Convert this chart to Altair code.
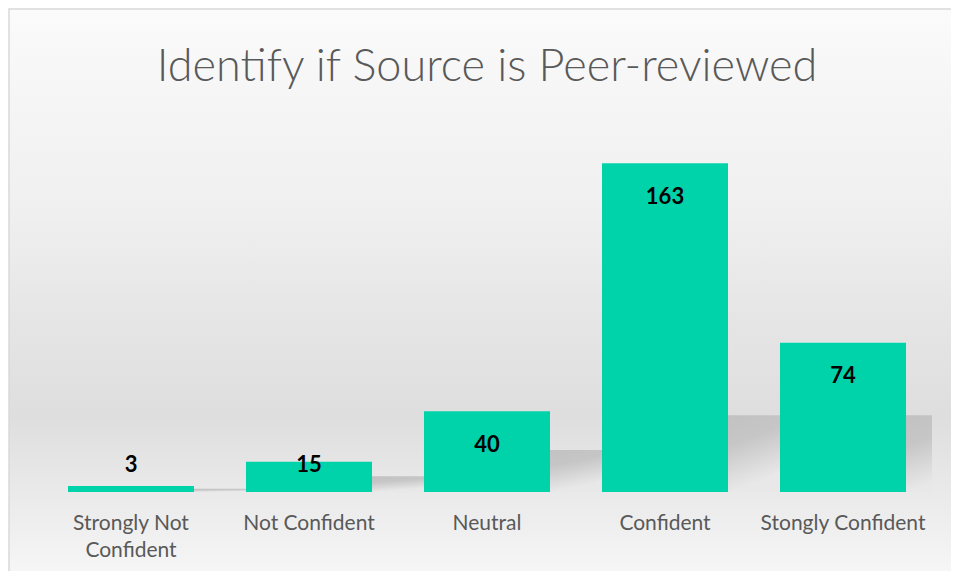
import altair as alt
import pandas as pd

categories = ["Strongly Not Confident", "Not Confident", "Neutral", "Confident", "Stongly Confident"]
values = [3, 15, 40, 163, 74]
title_text = ["Identify if Source is Peer-reviewed"]

df = pd.DataFrame({"cat": categories, "v": values})
bg_df = pd.DataFrame({"a": [0]})
title_df = pd.DataFrame({"t": title_text})

W, H = 890, 363
PL, PT, PR, PB = 34, 121, 19, 79

bg = alt.Chart(bg_df).mark_rect(
    color=alt.Gradient(
        gradient="linear",
        x1=0, x2=0, y1=0, y2=1,
        stops=[
            alt.GradientStop(offset=0.0, color="#fbfbfb"),
            alt.GradientStop(offset=0.16, color="#f5f5f5"),
            alt.GradientStop(offset=0.34, color="#f0f0f0"),
            alt.GradientStop(offset=0.52, color="#e6e6e6"),
            alt.GradientStop(offset=0.70, color="#dedede"),
            alt.GradientStop(offset=0.87, color="#ededed"),
            alt.GradientStop(offset=1.0, color="#f9f9f9"),
        ],
    ),
    stroke="#d9d9d9",
    strokeWidth=1.5,
).encode(
    x=alt.value(-PL + 1),
    x2=alt.value(W + PR + 20),
    y=alt.value(-PT + 1),
    y2=alt.value(H + PB + 20),
)

title = alt.Chart(title_df).mark_text(
    font="Lato", fontSize=45, fontWeight=300, color="#595959",
    align="center", baseline="alphabetic",
).encode(
    x=alt.value(W / 2),
    y=alt.value(-48),
    text="t:N",
)

xscale = alt.Scale(paddingInner=0.292, paddingOuter=0.146)
xenc = alt.X(
    "cat:N",
    sort=categories,
    scale=xscale,
    axis=alt.Axis(
        title=None,
        labelAngle=0,
        ticks=False,
        domain=False,
        zindex=1,
        labelFont="Lato",
        labelFontSize=21,
        labelColor="#595959",
        labelPadding=20,
        labelLineHeight=27,
        labelLimit=300,
        labelExpr="datum.label == 'Strongly Not Confident' ? ['Strongly Not', 'Confident'] : datum.label",
    ),
)
yscale = alt.Scale(domain=[0, 180])

shadow = alt.Chart(df).transform_calculate(
    sh="min(datum.v * 0.52, 38)"
).mark_bar(
    xOffset=52,
    clip=True,
    color=alt.Gradient(
        gradient="linear",
        x1=0, y1=0, x2=0.6, y2=1,
        stops=[
            alt.GradientStop(offset=0.0, color="#d8d8d8"),
            alt.GradientStop(offset=0.12, color="#c0c0c0"),
            alt.GradientStop(offset=0.55, color="#c6c6c6"),
            alt.GradientStop(offset=1.0, color="#e8e8e8"),
        ],
    ),
).encode(
    x=xenc,
    y=alt.Y("sh:Q", scale=yscale, axis=None),
)

bars = alt.Chart(df).mark_bar(color="#00d2aa").encode(
    x=xenc,
    y=alt.Y("v:Q", scale=yscale, axis=None),
)

labels = alt.Chart(df).transform_calculate(
    ly="max(datum.v - 16.6, 13.6)"
).mark_text(
    font="Lato", fontSize=22, fontWeight="bold", color="#000000", baseline="middle"
).encode(
    x=xenc,
    y=alt.Y("ly:Q", scale=yscale, axis=None),
    text="v:Q",
)

chart = alt.layer(bg, title, shadow, bars, labels).properties(
    width=W,
    height=H,
    padding={"left": PL, "top": PT, "right": PR, "bottom": PB},
    autosize=alt.AutoSizeParams(type="none"),
    background="#ffffff",
).configure_view(stroke=None)

chart.save("out.html", embed_options={"renderer": "svg", "actions": False})
